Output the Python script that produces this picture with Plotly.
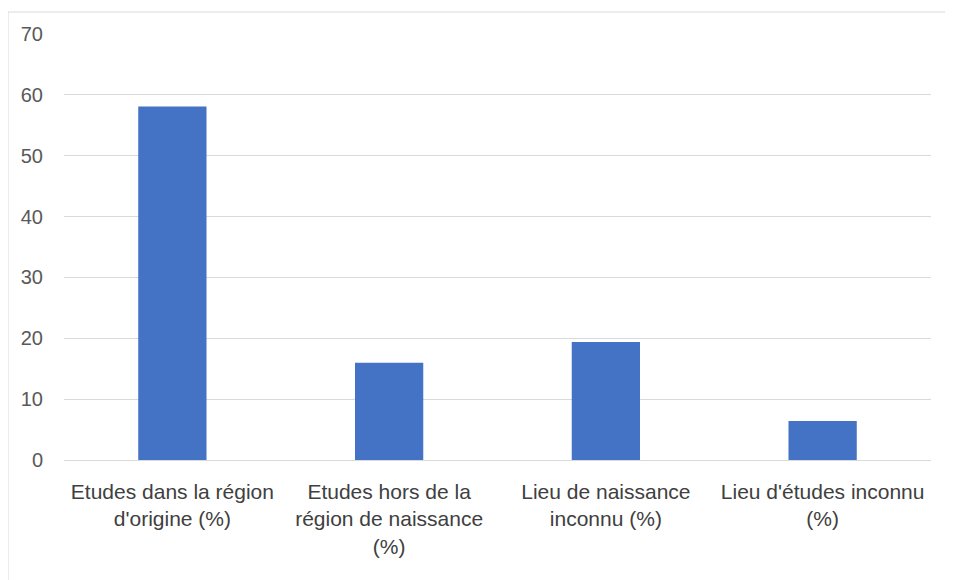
import plotly.graph_objects as go

categories = [
    "Etudes dans la région<br>d'origine (%)",
    "Etudes hors de la<br>région de naissance<br>(%)",
    "Lieu de naissance<br>inconnu (%)",
    "Lieu d'études inconnu<br>(%)",
]
values = [58.1, 16.0, 19.4, 6.4]
y_ticks = [0, 10, 20, 30, 40, 50, 60, 70]

FONT = "Liberation Sans Narrow, Liberation Sans, Arial"

fig = go.Figure(go.Bar(x=categories, y=values, marker=dict(color="#4472C4", line=dict(width=0))))

PLOT_W = 867
PLOT_H = 426

fig.update_layout(
    width=945, height=572,
    margin=dict(l=56, r=22, t=26, b=120),
    paper_bgcolor="white", plot_bgcolor="white",
    bargap=0.685,
    showlegend=False,
    font=dict(family=FONT, size=21, color="#404040"),
    xaxis=dict(showgrid=False, showline=False, ticks="", tickfont=dict(size=21, color="#404040"),
               ticklabelstandoff=17),
    yaxis=dict(range=[0, 70], tickvals=y_ticks, showgrid=True, gridcolor="#D9D9D9", gridwidth=1,
               zeroline=True, zerolinecolor="#D9D9D9", zerolinewidth=1, showline=False,
               tickfont=dict(size=20, color="#595959"), ticklabelstandoff=20),
    shapes=[dict(type="rect", xref="paper", yref="paper",
                 x0=-56 / PLOT_W, x1=1.2, y0=-0.5, y1=1 + 22 / PLOT_H,
                 line=dict(color="#D9D9D9", width=1), fillcolor="rgba(0,0,0,0)", layer="below")],
)

fig.write_html("out.html")
